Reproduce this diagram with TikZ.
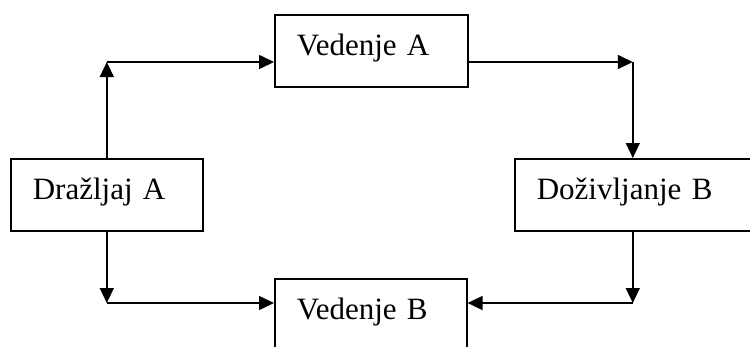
\documentclass[tikz,border=0pt]{standalone}
\usepackage{fontspec}
\setmainfont{Liberation Serif}
\usetikzlibrary{arrows.meta,positioning,calc}
\tikzset{
  sbox/.style={draw, line width=1.6pt, anchor=north west, align=left,
               font=\fontsize{31}{37}\selectfont, inner xsep=22pt, inner ysep=19pt,
               text height=22pt, text depth=12pt},
  flow/.style={-{Triangle[length=15pt,width=14pt]}, line width=1.6pt},
}

\begin{document}
\begin{tikzpicture}[x=1pt,y=-1pt]
  \useasboundingbox (0,0) rectangle (750,346);
  \node[sbox, text width=148pt] (drazA) at (10,158) {Dražljaj A};
  \node[sbox, text width=149pt] (vedA) at (274,14) {Vedenje A};
  \node[sbox, text width=192pt] (dozB) at (514,158) {Doživljanje B};
  \node[sbox, text width=148pt] (vedB) at (274,278) {Vedenje B};
  \coordinate (tl) at (drazA.north |- 0,62);
  \coordinate (tr) at (dozB.north |- 0,62);
  \coordinate (bl) at (drazA.south |- 0,303);
  \coordinate (br) at (dozB.south |- 0,303);
  \draw[flow] (drazA.north) -- (tl);
  \draw[flow] (tl) -- (tl -| vedA.west);
  \draw[flow] (vedA.east |- tl) -- (tr);
  \draw[flow] (tr) -- (dozB.north);
  \draw[flow] (drazA.south) -- (bl);
  \draw[flow] (bl) -- (bl -| vedB.west);
  \draw[flow] (dozB.south) -- (br);
  \draw[flow] (br) -- (br -| vedB.east);
\end{tikzpicture}
\end{document}
